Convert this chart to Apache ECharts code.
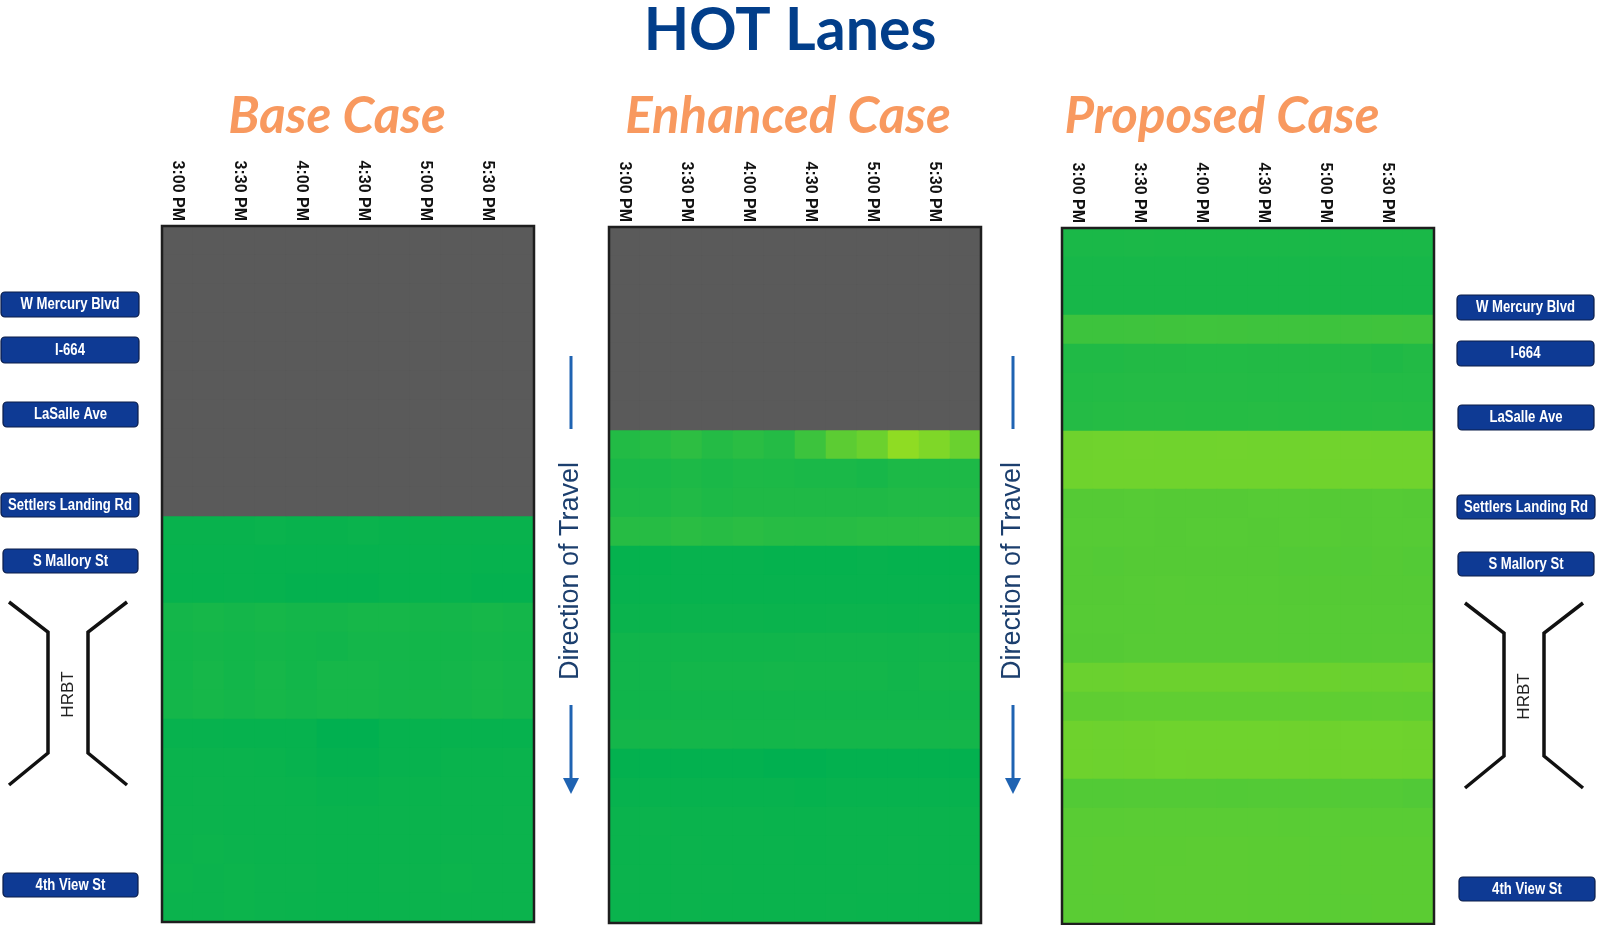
<!DOCTYPE html>
<html>
<head>
<meta charset="utf-8">
<script src="https://cdn.jsdelivr.net/npm/echarts@6/dist/echarts.min.js"></script>
<style>
html,body{margin:0;padding:0;background:#fff;}
#chart{width:1598px;height:925px;}
</style>
</head>
<body>
<div id="chart"></div>
<script>
// ---------------- DATA ----------------
const timeSlots = ['3:00 PM','3:15 PM','3:30 PM','3:45 PM','4:00 PM','4:15 PM','4:30 PM','4:45 PM','5:00 PM','5:15 PM','5:30 PM','5:45 PM'];
const segments = ['S01','S02','S03','S04','S05','S06','S07','S08','S09','S10','S11','S12','S13','S14','S15','S16','S17','S18','S19','S20','S21','S22','S23','S24'];
const caseTitles = ['Base Case', 'Enhanced Case', 'Proposed Case'];
const roadNames = ['W Mercury Blvd', 'I-664', 'LaSalle Ave', 'Settlers Landing Rd', 'S Mallory St', '4th View St'];
const tunnelName = 'HRBT';
const directionText = 'Direction of Travel';
const N = null;

// speeds (mph) per segment row x 15-min column; null = lane not available
const baseCase = [
  [N,N,N,N,N,N,N,N,N,N,N,N],
  [N,N,N,N,N,N,N,N,N,N,N,N],
  [N,N,N,N,N,N,N,N,N,N,N,N],
  [N,N,N,N,N,N,N,N,N,N,N,N],
  [N,N,N,N,N,N,N,N,N,N,N,N],
  [N,N,N,N,N,N,N,N,N,N,N,N],
  [N,N,N,N,N,N,N,N,N,N,N,N],
  [N,N,N,N,N,N,N,N,N,N,N,N],
  [N,N,N,N,N,N,N,N,N,N,N,N],
  [N,N,N,N,N,N,N,N,N,N,N,N],
  [63.9,63.9,63.9,63.6,63.9,63.9,63.6,63.9,63.9,63.9,63.9,63.9],
  [64.0,64.0,64.0,64.2,64.2,64.2,64.2,64.0,64.0,64.0,64.2,64.2],
  [64.2,64.2,64.0,64.2,64.4,64.4,64.4,64.2,64.2,64.2,64.4,64.4],
  [62.3,62.0,62.3,62.0,62.3,62.3,62.0,62.0,62.3,62.3,62.0,62.3],
  [62.5,62.3,62.5,62.3,62.5,62.6,62.3,62.3,62.5,62.5,62.3,62.5],
  [62.5,62.0,62.5,62.0,62.5,62.0,62.0,62.3,62.5,62.3,62.0,62.3],
  [62.3,62.0,62.3,62.0,62.2,62.0,62.0,62.2,62.2,62.2,62.0,62.2],
  [64.0,64.0,64.2,64.2,64.2,64.8,64.8,64.2,64.2,64.2,64.2,64.2],
  [63.6,63.6,63.6,63.8,64.0,64.4,64.4,64.0,64.0,63.8,63.8,63.6],
  [63.6,63.5,63.6,63.6,63.8,64.0,64.0,63.8,63.8,63.6,63.6,63.6],
  [63.5,63.5,63.6,63.6,63.6,63.8,63.8,63.6,63.6,63.6,63.6,63.5],
  [63.5,63.4,63.5,63.6,63.6,63.8,63.8,63.6,63.6,63.5,63.5,63.5],
  [63.4,63.5,63.4,63.5,63.5,63.7,63.7,63.5,63.5,63.4,63.5,63.5],
  [63.5,63.5,63.4,63.5,63.6,63.7,63.7,63.6,63.5,63.5,63.5,63.5]
];

const enhancedCase = [
  [N,N,N,N,N,N,N,N,N,N,N,N],
  [N,N,N,N,N,N,N,N,N,N,N,N],
  [N,N,N,N,N,N,N,N,N,N,N,N],
  [N,N,N,N,N,N,N,N,N,N,N,N],
  [N,N,N,N,N,N,N,N,N,N,N,N],
  [N,N,N,N,N,N,N,N,N,N,N,N],
  [N,N,N,N,N,N,N,N,N,N,N,N],
  [60.3,59.8,58.8,60.1,59.2,60.1,56.8,52.4,50.3,45.4,47.6,50.4],
  [61.5,61.5,61.0,61.5,61.0,61.2,61.5,61.5,61.8,61.2,61.2,61.0],
  [61.0,61.0,60.5,61.0,60.8,60.8,60.8,60.8,60.8,60.5,60.5,60.5],
  [59.8,59.8,59.2,59.6,59.2,59.6,59.8,59.6,59.4,59.4,59.2,59.2],
  [64.3,64.3,64.0,64.0,64.0,64.3,64.3,64.3,64.0,64.3,64.3,64.3],
  [64.0,64.0,64.0,64.0,64.1,64.0,64.0,64.0,64.0,64.0,64.1,64.0],
  [63.6,63.6,63.5,63.5,63.5,63.6,63.6,63.5,63.5,63.6,63.5,63.5],
  [62.8,62.8,62.8,62.8,62.8,62.8,62.6,62.6,62.6,62.8,62.6,62.6],
  [62.6,62.6,62.4,62.4,62.4,62.2,62.4,62.4,62.4,62.6,62.4,62.4],
  [62.8,62.8,62.6,62.6,62.6,62.6,62.6,62.6,62.6,62.6,62.6,62.6],
  [62.2,62.2,62.2,62.2,62.4,62.4,62.2,62.2,62.2,62.2,62.2,62.2],
  [64.6,64.6,64.6,64.6,64.6,64.8,64.8,64.6,64.6,64.6,64.6,64.6],
  [64.1,64.1,64.1,64.1,64.1,64.1,64.3,64.1,64.1,64.1,64.1,64.1],
  [63.6,63.5,63.6,63.6,63.6,63.7,63.7,63.6,63.6,63.6,63.6,63.6],
  [63.6,63.6,63.5,63.6,63.6,63.6,63.7,63.6,63.6,63.5,63.6,63.6],
  [63.5,63.6,63.5,63.5,63.6,63.6,63.6,63.6,63.5,63.5,63.6,63.5],
  [63.6,63.6,63.5,63.6,63.6,63.6,63.6,63.5,63.6,63.6,63.6,63.6]
];

const proposedCase = [
  [61.4,61.4,61.3,61.4,61.4,61.4,61.4,61.4,61.4,61.4,61.4,61.4],
  [61.8,61.8,61.8,61.8,61.9,61.9,61.8,61.9,61.9,61.9,61.9,61.9],
  [61.8,61.8,61.8,61.8,61.9,61.9,61.8,61.8,61.9,61.9,61.9,61.9],
  [56.6,56.6,56.5,56.4,56.3,56.4,56.5,56.5,56.6,56.5,56.4,56.5],
  [60.6,60.6,60.4,60.4,60.3,60.3,60.4,60.4,60.4,60.4,60.8,60.4],
  [60.3,60.2,60.1,60.1,60.1,60.1,60.2,60.2,60.1,60.1,60.2,60.2],
  [60.0,59.9,59.8,59.8,59.9,59.9,59.8,59.9,59.9,59.9,59.8,59.9],
  [49.8,49.6,49.5,49.6,49.6,49.5,49.6,49.6,49.5,49.5,49.6,49.6],
  [49.7,49.6,49.6,49.6,49.6,49.6,49.6,49.6,49.6,49.6,49.6,49.6],
  [53.3,53.3,53.2,53.3,53.3,53.3,53.2,53.2,53.3,53.3,53.2,53.3],
  [53.2,53.2,53.2,53.3,53.2,53.2,53.3,53.2,53.2,53.3,53.2,53.2],
  [53.4,53.6,53.4,53.4,53.4,53.4,53.4,53.6,53.6,53.6,53.4,53.6],
  [53.4,53.4,53.2,53.0,53.2,53.2,53.2,53.4,53.4,53.4,53.4,53.4],
  [53.2,53.2,53.2,53.0,53.0,53.0,53.0,53.2,53.2,53.2,53.2,53.2],
  [53.3,53.3,53.1,53.1,53.1,53.1,53.1,53.2,53.2,53.2,53.1,53.1],
  [50.4,50.4,50.2,50.2,50.2,50.2,50.2,50.3,50.3,50.4,50.4,50.3],
  [52.0,52.0,51.8,51.8,51.8,51.8,51.8,51.8,51.9,51.9,51.8,51.9],
  [49.9,50.0,49.9,49.7,49.7,49.7,49.7,49.8,49.9,49.7,49.7,49.9],
  [49.9,50.0,49.9,49.7,49.8,49.8,49.8,49.8,49.9,49.8,49.8,49.9],
  [53.7,53.7,53.6,53.6,53.6,53.7,53.6,53.6,53.6,53.6,53.6,53.9],
  [52.8,52.8,52.7,52.7,52.7,52.7,52.7,52.8,52.7,52.8,52.8,52.8],
  [52.6,52.5,52.5,52.5,52.4,52.4,52.5,52.5,52.6,52.5,52.5,52.5],
  [52.6,52.5,52.5,52.4,52.4,52.4,52.5,52.5,52.6,52.5,52.5,52.5],
  [52.6,52.6,52.5,52.4,52.4,52.4,52.5,52.5,52.6,52.6,52.5,52.5]
];

// speed color scale (slow -> fast)
const speedMin = 30, speedMax = 65;
const speedColors = ['#ffff00', '#00b050'];
const noDataColor = '#5a5a5a';

// ---------------- LAYOUT ----------------
// whole-pixel cell sizes (31 x 29) keep cell edges crisp
const panels = [
  {m: baseCase,     left: 162,  top: 226, width: 372, height: 696, labelMargin: 5},
  {m: enhancedCase, left: 609,  top: 227, width: 372, height: 696, labelMargin: 5},
  {m: proposedCase, left: 1062, top: 228, width: 372, height: 696, labelMargin: 5}
];

function splitData(m) {
  const speed = [], gray = [];
  m.forEach((row, r) => row.forEach((v, c) => {
    if (v === null) gray.push([c, r, 1]); else speed.push([c, r, v]);
  }));
  return {speed, gray};
}

const grid = [], xAxis = [], yAxis = [], series = [];
const speedIdx = [], grayIdx = [];
panels.forEach((p, i) => {
  grid.push({left: p.left, top: p.top, width: p.width, height: p.height,
    show: true, borderColor: '#1e1e1e', borderWidth: 2.5, backgroundColor: 'transparent', z: 10});
  xAxis.push({type: 'category', gridIndex: i, data: timeSlots, position: 'top',
    axisLine: {show: false}, axisTick: {show: false}, splitLine: {show: false},
    axisLabel: {interval: 1, rotate: 90, margin: p.labelMargin, fontSize: 16, fontWeight: 'bold',
      fontFamily: '"Liberation Sans", Arial, sans-serif', color: '#111'}});
  yAxis.push({type: 'category', gridIndex: i, data: segments, inverse: true, show: false});
  const d = splitData(p.m);
  speedIdx.push(series.length);
  series.push({type: 'heatmap', xAxisIndex: i, yAxisIndex: i, data: d.speed, itemStyle: {borderWidth: 0}, emphasis: {disabled: true}});
  grayIdx.push(series.length);
  series.push({type: 'heatmap', xAxisIndex: i, yAxisIndex: i, data: d.gray, itemStyle: {borderWidth: 0}, emphasis: {disabled: true}});
});

// ---------------- DECORATIONS ----------------
const graphic = [];
graphic.push({type: 'text', x: 790, y: 31, style: {text: 'HOT Lanes', font: 'bold 59px Lato, "Open Sans", sans-serif',
  fill: '#023e8a', align: 'center', verticalAlign: 'middle'}});
const subX = [337, 788, 1222];
caseTitles.forEach((t, i) => graphic.push({type: 'text', x: subX[i], y: 117,
  style: {text: t, font: 'italic bold 51px Lato, "Open Sans", sans-serif', fill: '#f8995f', align: 'center', verticalAlign: 'middle'}}));

function roadLabel(name, x, y, w, h) {
  graphic.push({type: 'rect', shape: {x: x, y: y, width: w, height: h, r: 4},
    style: {fill: '#0e3a94', stroke: '#0a1c48', lineWidth: 1.2}});
  graphic.push({type: 'text', x: x + w / 2, y: y + h / 2 + 0.5, scaleX: 0.82,
    style: {text: name, font: 'bold 16px "Liberation Sans", Arial, sans-serif',
      fill: '#ffffff', align: 'center', verticalAlign: 'middle'}});
}
const leftBoxes = [[1, 292, 138, 25], [1, 337, 138, 26], [3, 402, 135, 25], [1, 493, 138, 24], [3, 549, 135, 24], [3, 873, 135, 24]];
const rightBoxes = [[1457, 295, 137, 25], [1457, 341, 137, 25], [1458, 405, 136, 25], [1457, 495, 138, 24], [1458, 552, 136, 24], [1459, 877, 136, 24]];
roadNames.forEach((n, i) => { roadLabel(n, ...leftBoxes[i]); roadLabel(n, ...rightBoxes[i]); });

function tunnel(x0, yTop, yBot, xc) {
  const lw = 3.5;
  graphic.push({type: 'polyline', shape: {points: [[x0, yTop], [x0 + 39, yTop + 30], [x0 + 39, yBot - 32], [x0, yBot]]},
    style: {stroke: '#111', lineWidth: lw, fill: null}});
  graphic.push({type: 'polyline', shape: {points: [[x0 + 118, yTop], [x0 + 79, yTop + 30], [x0 + 79, yBot - 32], [x0 + 118, yBot]]},
    style: {stroke: '#111', lineWidth: lw, fill: null}});
  graphic.push({type: 'text', x: xc, y: (yTop + yBot) / 2 + 1, rotation: Math.PI / 2,
    style: {text: tunnelName, font: '17px "Liberation Sans", Arial, sans-serif', fill: '#222', align: 'center', verticalAlign: 'middle'}});
}
tunnel(9, 602, 785, 68);
tunnel(1465, 603, 788, 1524);

function direction(x) {
  const blue = '#1f63b2';
  graphic.push({type: 'line', shape: {x1: x, y1: 356, x2: x, y2: 429}, style: {stroke: blue, lineWidth: 3}});
  graphic.push({type: 'text', x: x, y: 571, rotation: Math.PI / 2,
    style: {text: directionText, font: '27px "Liberation Sans", Arial, sans-serif', fill: '#1c3f6e', align: 'center', verticalAlign: 'middle'}});
  graphic.push({type: 'line', shape: {x1: x, y1: 705, x2: x, y2: 780}, style: {stroke: blue, lineWidth: 3}});
  graphic.push({type: 'polygon', shape: {points: [[x - 8, 778], [x + 8, 778], [x, 794]]}, style: {fill: blue}});
}
direction(571);
direction(1013);

const chart = echarts.init(document.getElementById('chart'), null, {renderer: 'canvas'});
chart.setOption({
  backgroundColor: '#ffffff',
  animation: false,
  grid: grid,
  xAxis: xAxis,
  yAxis: yAxis,
  visualMap: [
    {type: 'continuous', show: false, min: speedMin, max: speedMax, seriesIndex: speedIdx, inRange: {color: speedColors}},
    {type: 'continuous', show: false, min: 0, max: 1, seriesIndex: grayIdx, inRange: {color: [noDataColor, noDataColor]}}
  ],
  series: series,
  graphic: graphic
});
</script>
</body>
</html>
